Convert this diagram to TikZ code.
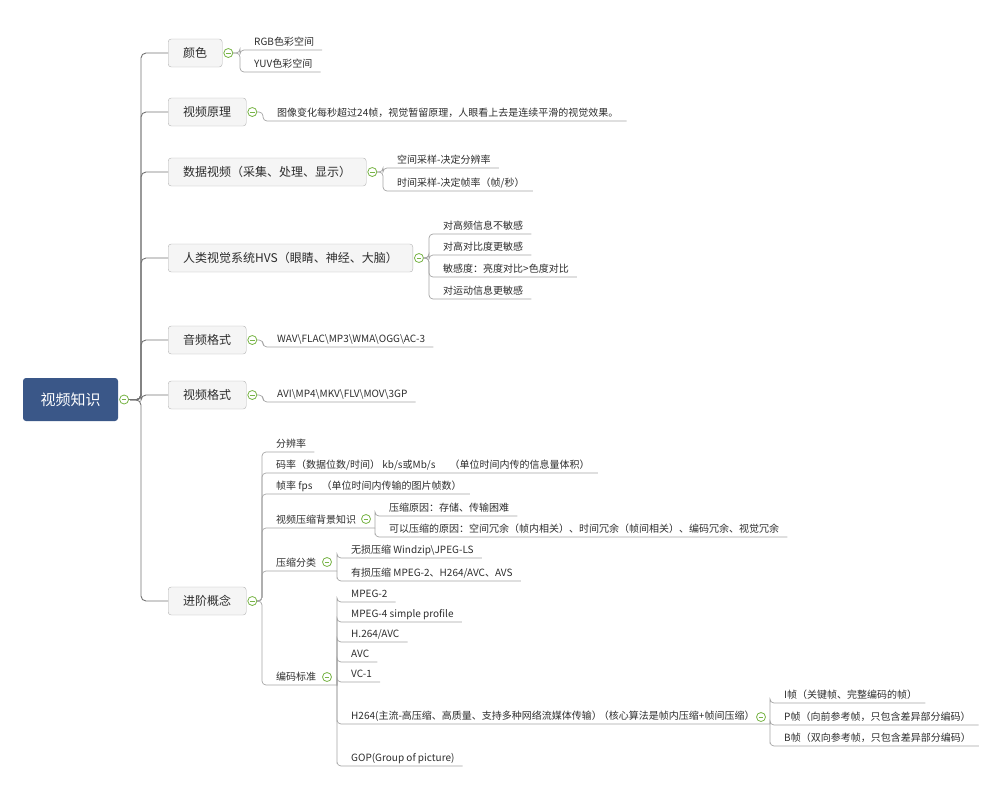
\documentclass[tikz,border=0pt]{standalone}
\usepackage{fontspec}
\setmainfont{Noto Sans CJK SC}
\definecolor{rootBlue}{RGB}{58, 87, 136}
\definecolor{boxGray}{RGB}{245, 245, 245}
\definecolor{edgeGray}{RGB}{178, 178, 178}
\definecolor{lineGray}{RGB}{165, 165, 165}
\definecolor{trunkGray}{RGB}{115, 115, 115}
\definecolor{toggleGreen}{RGB}{120, 180, 70}
\definecolor{textDark}{RGB}{45, 45, 45}
\usetikzlibrary{positioning}

\begin{document}
\begin{tikzpicture}[
    x=1pt, y=-1pt,
    root/.style={rectangle, rounded corners=3pt, fill=rootBlue, text=white,
                 font=\fontsize{15}{18}\selectfont, minimum width=95pt,
                 minimum height=43pt},
    topic/.style={rectangle, rounded corners=3pt, draw=edgeGray, fill=boxGray,
                  text=textDark, font=\fontsize{12}{14}\selectfont,
                  inner xsep=15pt, minimum height=28pt, anchor=west},
    toggle/.style={circle, draw=toggleGreen, fill=white, line width=0.8pt,
                   minimum size=9pt, inner sep=0pt,
                   path picture={\draw[toggleGreen, line width=0.8pt]
                     ([xshift=-2.3pt]path picture bounding box.center) --
                     ([xshift=2.3pt]path picture bounding box.center);}},
    leaf/.style={anchor=south west, inner xsep=0pt, inner ysep=2pt,
                 text height=8pt, text depth=2pt, text=textDark,
                 font=\fontsize{10}{12}\selectfont,
                 execute at begin node=\hspace*{14pt},
                 execute at end node=\hspace*{8pt}},
    link/.style={draw=lineGray, line width=0.7pt, rounded corners=4pt},
    trunkline/.style={draw=trunkGray, line width=0.9pt, rounded corners=5pt},
  ]
    \useasboundingbox (0,0) rectangle (1007,785);

    % Root
    \node[root] (root) at (70.5,399.5) {视频知识};
    \node[toggle, right=1pt of root] (rootT) {};
    \coordinate (trunk) at (141,400);

    % Main topics
    \node[topic] (color) at (168,53) {颜色};
    \node[topic] (principle) at (168,112) {视频原理};
    \node[topic] (data) at (168,172) {数据视频（采集、处理、显示）};
    \node[topic] (hvs) at (168,258) {人类视觉系统HVS（眼睛、神经、大脑）};
    \node[topic] (audio) at (168,340) {音频格式};
    \node[topic] (vfmt) at (168,395) {视频格式};
    \node[topic] (adv) at (168,601) {进阶概念};

    \node[toggle, right=1pt of color] (colorT) {};
    \node[toggle, right=1pt of principle] (principleT) {};
    \node[toggle, right=1pt of data] (dataT) {};
    \node[toggle, right=1pt of hvs] (hvsT) {};
    \node[toggle, right=1pt of audio] (audioT) {};
    \node[toggle, right=1pt of vfmt] (vfmtT) {};
    \node[toggle, right=1pt of adv] (advT) {};

    \foreach \t in {color, principle, data, hvs, audio, vfmt, adv}
      \draw[trunkline] (rootT.east) -- (trunk) |- (\t.west);

    % Colour spaces
    \node[leaf] (rgb) at (240,50) {RGB色彩空间};
    \node[leaf] (yuv) at (240,72) {YUV色彩空间};
    \foreach \l in {rgb, yuv}
      \draw[link] (colorT.east) -| (\l.south west) -- (\l.south east);

    % Principle
    \node[leaf] (persist) at (263,121)
         {图像变化每秒超过24帧，视觉暂留原理，人眼看上去是连续平滑的视觉效果。};
    \draw[link] (principleT.east) -| (persist.south west) -- (persist.south east);

    % Sampling
    \node[leaf] (spatial) at (383,168) {空间采样-决定分辨率};
    \node[leaf] (temporal) at (383,191) {时间采样-决定帧率（帧/秒）};
    \foreach \l in {spatial, temporal}
      \draw[link] (dataT.east) -| (\l.south west) -- (\l.south east);

    % HVS
    \node[leaf] (hvsA) at (429,234) {对高频信息不敏感};
    \node[leaf] (hvsB) at (429,255) {对高对比度更敏感};
    \node[leaf] (hvsC) at (429,277) {敏感度：亮度对比>色度对比};
    \node[leaf] (hvsD) at (429,299) {对运动信息更敏感};
    \foreach \l in {hvsA, hvsB, hvsC, hvsD}
      \draw[link] (hvsT.east) -| (\l.south west) -- (\l.south east);

    % Formats
    \node[leaf] (audioL) at (263,347)
         {WAV\textbackslash FLAC\textbackslash MP3\textbackslash WMA\textbackslash OGG\textbackslash AC-3};
    \draw[link] (audioT.east) -| (audioL.south west) -- (audioL.south east);
    \node[leaf] (vfmtL) at (263,402)
         {AVI\textbackslash MP4\textbackslash MKV\textbackslash FLV\textbackslash MOV\textbackslash 3GP};
    \draw[link] (vfmtT.east) -| (vfmtL.south west) -- (vfmtL.south east);

    % Advanced concepts
    \node[leaf] (res) at (262,452) {分辨率};
    \node[leaf] (bitrate) at (262,473)
         {码率（数据位数/时间） kb/s或Mb/s\hspace{1.4em}（单位时间内传的信息量体积）};
    \node[leaf] (fps) at (262,494) {帧率 fps\hspace{0.9em}（单位时间内传输的图片帧数）};
    \node[leaf] (bg) at (262,528) {视频压缩背景知识};
    \node[leaf] (cls) at (262,571) {压缩分类};
    \node[leaf] (std) at (262,685) {编码标准};
    \foreach \l in {res, bitrate, fps}
      \draw[link] (advT.east) -| (\l.south west) -- (\l.south east);

    \node[toggle] (bgT) at (366,519) {};
    \node[toggle] (clsT) at (327,562) {};
    \node[toggle] (stdT) at (327,677) {};
    \coordinate (bgB) at (375,528);
    \coordinate (clsB) at (337,571);
    \coordinate (stdB) at (337,685);
    \draw[link] (advT.east) -| (bg.south west) -- (bgB);
    \draw[link] (advT.east) -| (cls.south west) -- (clsB);
    \draw[link] (advT.east) -| (std.south west) -- (stdB);

    % Compression background
    \node[leaf] (why) at (375,516) {压缩原因：存储、传输困难};
    \node[leaf] (redund) at (375,537)
         {可以压缩的原因：空间冗余（帧内相关）、时间冗余（帧间相关）、编码冗余、视觉冗余};
    \foreach \l in {why, redund}
      \draw[link] (bgB) |- (\l.south west) -- (\l.south east);

    % Compression classes
    \node[leaf] (lossless) at (337,558) {无损压缩 Windzip\textbackslash JPEG-LS};
    \node[leaf] (lossy) at (337,581) {有损压缩 MPEG-2、H264/AVC、AVS};
    \foreach \l in {lossless, lossy}
      \draw[link] (clsB) |- (\l.south west) -- (\l.south east);

    % Coding standards
    \node[leaf] (mpegA) at (337,602) {MPEG-2};
    \node[leaf] (mpegB) at (337,622) {MPEG-4 simple profile};
    \node[leaf] (avcA) at (337,642) {H.264/AVC};
    \node[leaf] (avcB) at (337,662) {AVC};
    \node[leaf] (vc) at (337,682) {VC-1};
    \node[leaf] (gop) at (337,766) {GOP(Group of picture)};
    \foreach \l in {mpegA, mpegB, avcA, avcB, vc, gop}
      \draw[link] (stdB) |- (\l.south west) -- (\l.south east);

    \node[leaf] (hmain) at (337,724)
         {H264(主流-高压缩、高质量、支持多种网络流媒体传输）\hspace{-0.3em}（核心算法是帧内压缩+帧间压缩）};
    \node[toggle] (hmainT) at (761,717) {};
    \coordinate (hmainB) at (770,724);
    \draw[link] (stdB) |- (hmain.south west) -- (hmainB);

    % Frame types
    \node[leaf] (iframe) at (770,703) {I帧（关键帧、完整编码的帧）};
    \node[leaf] (pframe) at (770,725) {P帧（向前参考帧，只包含差异部分编码）};
    \node[leaf] (bframe) at (770,746) {B帧（双向参考帧，只包含差异部分编码）};
    \foreach \l in {iframe, pframe, bframe}
      \draw[link] (hmainB) |- (\l.south west) -- (\l.south east);
  \end{tikzpicture}
\end{document}
